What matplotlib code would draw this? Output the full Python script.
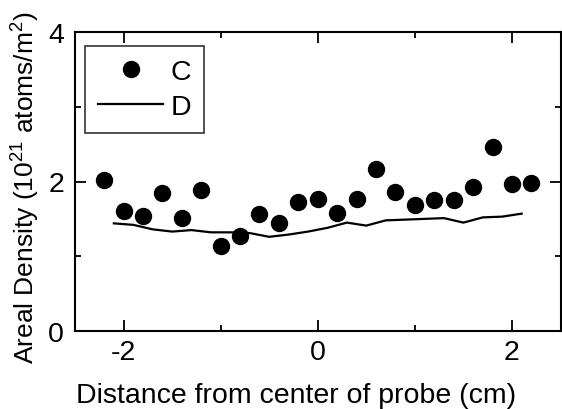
import matplotlib
matplotlib.use("Agg")
import matplotlib.pyplot as plt
from matplotlib.lines import Line2D
from matplotlib.ticker import MultipleLocator

plt.rcParams['font.family'] = ['Liberation Sans', 'DejaVu Sans']
plt.rcParams['mathtext.fontset'] = 'custom'
plt.rcParams['mathtext.rm'] = 'Liberation Sans'
plt.rcParams['axes.unicode_minus'] = False

# Data
c_x = [-2.2, -2.0, -1.8, -1.6, -1.4, -1.2, -1.0, -0.8, -0.6, -0.4, -0.2, 0.0,
       0.2, 0.4, 0.6, 0.8, 1.0, 1.2, 1.4, 1.6, 1.8, 2.0, 2.2]
c_y = [2.02, 1.61, 1.54, 1.85, 1.51, 1.89, 1.14, 1.27, 1.56, 1.44, 1.72, 1.77,
       1.58, 1.77, 2.17, 1.86, 1.68, 1.75, 1.75, 1.93, 2.46, 1.97, 1.98]

d_x = [-2.1, -1.9, -1.7, -1.5, -1.3, -1.1, -0.9, -0.7, -0.5, -0.3, -0.1,
       0.1, 0.3, 0.5, 0.7, 0.9, 1.1, 1.3, 1.5, 1.7, 1.9, 2.1]
d_y = [1.44, 1.42, 1.36, 1.33, 1.35, 1.32, 1.32, 1.31, 1.26, 1.29, 1.33,
       1.38, 1.45, 1.41, 1.48, 1.49, 1.50, 1.51, 1.45, 1.52, 1.53, 1.57]

x_ticks = [-2, 0, 2]
y_ticks = [0, 2, 4]

FS = 20.5
W, H = 562, 410
L, R, T, B = 75, 560.5, 33, 332

fig = plt.figure(figsize=(W/100, H/100), dpi=100)
ax = fig.add_axes([L/W, 1-B/H, (R-L)/W, (B-T)/H])

ax.plot(d_x, d_y, color='black', lw=1.6, label='D')
ax.plot(c_x, c_y, 'o', color='black', ms=11.5, label='C')

ax.set_xlim(-2.5, 2.5)
ax.set_ylim(0, 4)
ax.set_xticks(x_ticks)
ax.set_yticks(y_ticks)
ax.xaxis.set_minor_locator(MultipleLocator(1))
ax.yaxis.set_minor_locator(MultipleLocator(1))
ax.tick_params(which='both', direction='in', top=True, right=True, width=1.3,
               labelsize=FS, colors='black')
ax.tick_params(which='major', length=8)
ax.tick_params(axis='x', which='major', pad=6)
ax.tick_params(axis='y', which='major', pad=8)
ax.tick_params(which='minor', length=4.5)
for s in ax.spines.values():
    s.set_linewidth(1.5)

ax.set_xlabel('Distance from center of probe (cm)', fontsize=FS)
ax.xaxis.label.set_va('baseline')
ax.xaxis.set_label_coords((296.5-L)/(R-L), -(403-B)/(B-T))
ax.set_ylabel('Areal Density (10$^{21}$ atoms/m$^2$)', fontsize=19)
ax.yaxis.label.set_va('baseline')
ax.yaxis.set_label_coords(-(L-34)/(R-L), (B-187.5)/(B-T))

handles = [Line2D([], [], marker='o', ls='none', color='black', ms=11.5),
           Line2D([], [], color='black', lw=1.6)]
leg = ax.legend(handles, ['C', 'D'], loc='upper left', fontsize=FS,
                bbox_to_anchor=(10/(R-L), 1-14/(B-T)), borderaxespad=0,
                frameon=True, fancybox=False, edgecolor='black',
                handlelength=2.3, handletextpad=0.25, borderpad=0.45,
                labelspacing=0.33)
leg.get_frame().set_linewidth(1.2)

fig.savefig('out.png', dpi=100)
